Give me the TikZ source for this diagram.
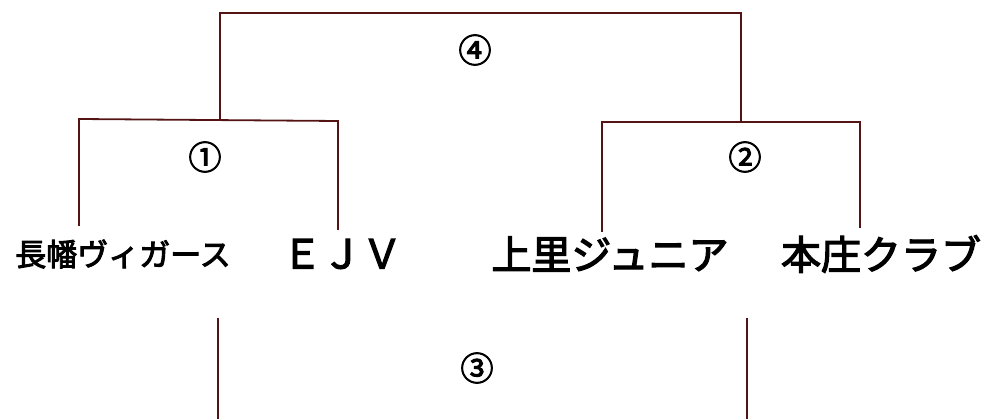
\documentclass[tikz,border=0pt]{standalone}
\usepackage{fontspec}
\setmainfont{Noto Sans CJK JP}
\newfontfamily\teamfont{Noto Sans CJK JP}[FakeBold=3]
\usetikzlibrary{positioning}
\definecolor{linebrown}{RGB}{85,20,20}

\begin{document}
\begin{tikzpicture}[x=1pt,y=-1pt,
    team/.style={inner sep=0pt,font=\teamfont\fontsize{40}{42}\selectfont},
    small/.style={inner sep=0pt,font=\teamfont\fontsize{31}{32}\selectfont},
    num/.style={inner sep=0pt,font=\teamfont\fontsize{33}{34}\selectfont},
    bracket/.style={draw=linebrown,line width=1.8pt}]
    \useasboundingbox (0,0) rectangle (990,419);
    % teams
    \node[small] (naga) at (123,254) {長幡ヴィガース};
    \node[team] (ejv) at (342,254) {ＥＪＶ};
    \node[team] (kami) at (610,254) {上里ジュニア};
    \node[team] (hon) at (881,254) {本庄クラブ};
    % match numbers
    \node[num] (m1) at (205,157) {①};
    \node[num] (m2) at (745,157) {②};
    \node[num] (m3) at (477,368) {③};
    \node[num] (m4) at (475,50) {④};
    % bracket ends
    \coordinate (a1) at (79,226);
    \coordinate (b1) at (338,230);
    \coordinate (a2) at (602,232);
    \coordinate (b2) at (860,228);
    \coordinate (w1) at (220,120);
    \coordinate (w2) at (741,122);
    \coordinate (c1) at (218,318);
    \coordinate (c2) at (747,318);
    \draw[bracket] (a1) -- (79,119) -- (338,121) -- (b1);
    \draw[bracket] (a2) -- (602,122) -- (860,122) -- (b2);
    \draw[bracket] (w1) |- (741,13) -- (w2);
    \draw[bracket] (c1) -- (218,419);
    \draw[bracket] (c2) -- (747,419);
\end{tikzpicture}
\end{document}
